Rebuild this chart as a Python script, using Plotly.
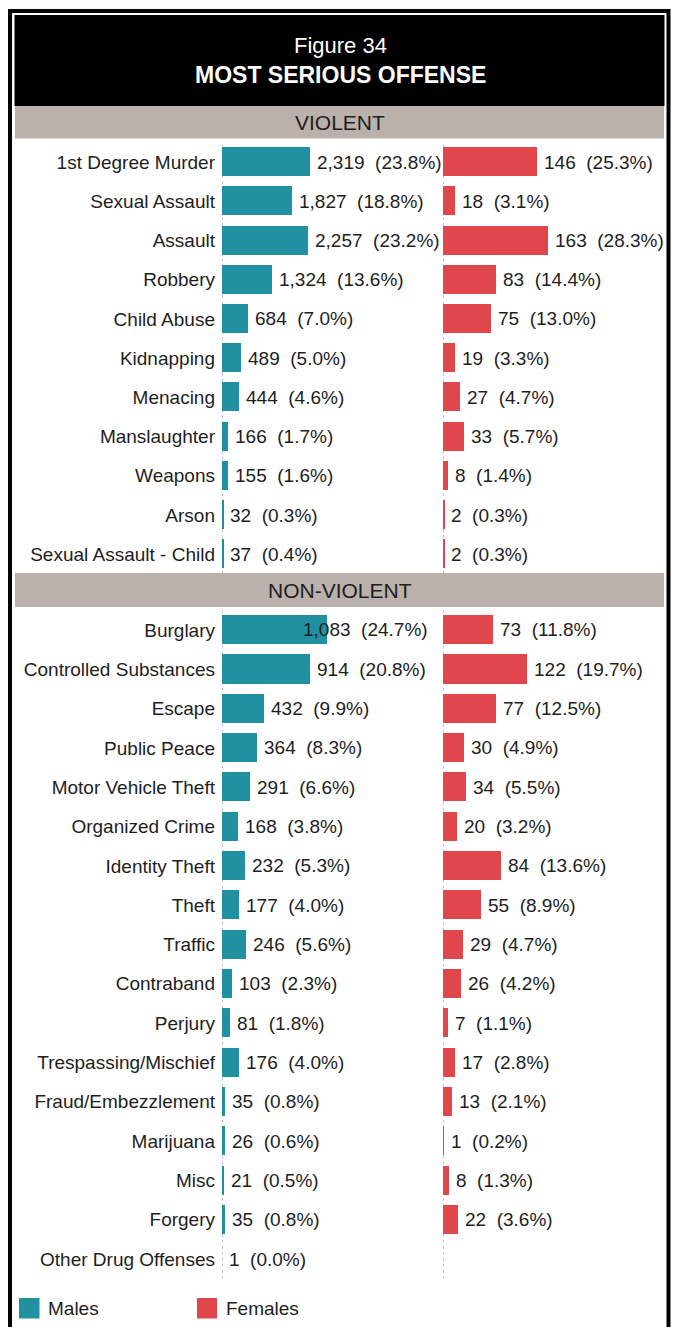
import plotly.graph_objects as go

# ---- data -------------------------------------------------------------
violent_offenses = ["1st Degree Murder", "Sexual Assault", "Assault", "Robbery",
                    "Child Abuse", "Kidnapping", "Menacing", "Manslaughter",
                    "Weapons", "Arson", "Sexual Assault - Child"]
violent_male_n = [2319, 1827, 2257, 1324, 684, 489, 444, 166, 155, 32, 37]
violent_male_pct = [23.8, 18.8, 23.2, 13.6, 7.0, 5.0, 4.6, 1.7, 1.6, 0.3, 0.4]
violent_female_n = [146, 18, 163, 83, 75, 19, 27, 33, 8, 2, 2]
violent_female_pct = [25.3, 3.1, 28.3, 14.4, 13.0, 3.3, 4.7, 5.7, 1.4, 0.3, 0.3]

nonviolent_offenses = ["Burglary", "Controlled Substances", "Escape", "Public Peace",
                       "Motor Vehicle Theft", "Organized Crime", "Identity Theft",
                       "Theft", "Traffic", "Contraband", "Perjury",
                       "Trespassing/Mischief", "Fraud/Embezzlement", "Marijuana",
                       "Misc", "Forgery", "Other Drug Offenses"]
nonviolent_male_n = [1083, 914, 432, 364, 291, 168, 232, 177, 246, 103, 81,
                     176, 35, 26, 21, 35, 1]
nonviolent_male_pct = [24.7, 20.8, 9.9, 8.3, 6.6, 3.8, 5.3, 4.0, 5.6, 2.3, 1.8,
                       4.0, 0.8, 0.6, 0.5, 0.8, 0.0]
nonviolent_female_n = [73, 122, 77, 30, 34, 20, 84, 55, 29, 26, 7,
                       17, 13, 1, 8, 22, None]
nonviolent_female_pct = [11.8, 19.7, 12.5, 4.9, 5.5, 3.2, 13.6, 8.9, 4.7, 4.2, 1.1,
                         2.8, 2.1, 0.2, 1.3, 3.6, None]

title_top = "Figure 34"
title_main = "MOST SERIOUS OFFENSE"
section_names = ["VIOLENT", "NON-VIOLENT"]
series_names = ["Males", "Females"]

# ---- style ------------------------------------------------------------
W, H = 673, 1327
MALE = "#2190A0"
FEMALE = "#E0474C"
BAND = "#BAB0AC"
INK = "#1E1E1E"
FONT = "Liberation Sans, Arial, sans-serif"
LABEL_SIZE = 19


def fx(px):
    return px / W


def fy(py):
    return 1 - py / H


fig = go.Figure()

sections = [
    dict(cats=violent_offenses, mn=violent_male_n, mp=violent_male_pct,
         fn=violent_female_n, fp=violent_female_pct, top=142.4, bottom=573.9,
         xm="x", xf="x2", y="y"),
    dict(cats=nonviolent_offenses, mn=nonviolent_male_n, mp=nonviolent_male_pct,
         fn=nonviolent_female_n, fp=nonviolent_female_pct, top=610.3, bottom=1278.7,
         xm="x3", xf="x4", y="y2"),
]

male_dom = [fx(222), fx(432)]
female_dom = [fx(443), fx(653)]


def fmt(n, p):
    return f"{n:,}\u00a0 ({p:.1f}%)"


annotations = []
shapes = []

for s in sections:
    smax = max([v for v in s["mp"] + s["fp"] if v is not None])
    fig.add_trace(go.Bar(
        y=s["cats"], x=s["mp"], orientation="h", xaxis=s["xm"], yaxis=s["y"],
        marker=dict(color=MALE, line=dict(width=0)), width=0.74,
        showlegend=False, hoverinfo="skip"))
    fig.add_trace(go.Bar(
        y=s["cats"], x=s["fp"], orientation="h", xaxis=s["xf"], yaxis=s["y"],
        marker=dict(color=FEMALE, line=dict(width=0)), width=0.74,
        showlegend=False, hoverinfo="skip"))

    # value labels
    for cat, n, p in zip(s["cats"], s["mn"], s["mp"]):
        if p == smax:
            # a full-length bar keeps its label inside the male pane
            annotations.append(dict(x=2 * smax, y=cat, xref=s["xm"], yref=s["y"],
                                    text=fmt(n, p), showarrow=False, xanchor="right",
                                    yanchor="middle", xshift=-2,
                                    font=dict(size=LABEL_SIZE, color=INK)))
        else:
            annotations.append(dict(x=p, y=cat, xref=s["xm"], yref=s["y"],
                                    text=fmt(n, p), showarrow=False, xanchor="left",
                                    yanchor="middle", xshift=5,
                                    font=dict(size=LABEL_SIZE, color=INK)))
    for cat, n, p in zip(s["cats"], s["fn"], s["fp"]):
        if n is None:
            continue
        annotations.append(dict(x=p, y=cat, xref=s["xf"], yref=s["y"],
                                text=fmt(n, p), showarrow=False, xanchor="left",
                                yanchor="middle", xshift=5,
                                font=dict(size=LABEL_SIZE, color=INK)))

    # dotted baselines
    for xr in (s["xm"], s["xf"]):
        shapes.append(dict(type="line", xref=xr, yref=s["y"] + " domain",
                           x0=0, x1=0, y0=0, y1=1, layer="below",
                           line=dict(color="#8A8A8A", width=1, dash="dot")))
    s["max"] = smax

axis_off = dict(showgrid=False, zeroline=False, showticklabels=False,
                showline=False, ticks="", fixedrange=True)

layout = dict(
    width=W, height=H, margin=dict(l=0, r=0, t=0, b=0),
    paper_bgcolor="white", plot_bgcolor="rgba(0,0,0,0)",
    font=dict(family=FONT, color=INK, size=LABEL_SIZE),
    showlegend=False, bargap=0,
    xaxis=dict(domain=male_dom, range=[0, 2 * sections[0]["max"]], anchor="y", **axis_off),
    xaxis2=dict(domain=female_dom, range=[0, 2 * sections[0]["max"]], anchor="y", **axis_off),
    xaxis3=dict(domain=male_dom, range=[0, 2 * sections[1]["max"]], anchor="y2", **axis_off),
    xaxis4=dict(domain=female_dom, range=[0, 2 * sections[1]["max"]], anchor="y2", **axis_off),
)
for key, s in (("yaxis", sections[0]), ("yaxis2", sections[1])):
    n = len(s["cats"])
    layout[key] = dict(
        domain=[fy(s["bottom"]), fy(s["top"])], anchor=s["xm"],
        type="category", categoryorder="array", categoryarray=s["cats"],
        range=[n - 0.5, -0.5], showgrid=False, zeroline=False, showline=False,
        ticks="", ticklabelstandoff=6, fixedrange=True,
        tickfont=dict(size=LABEL_SIZE, color=INK, family=FONT))

# frame, title box, section bands
shapes += [
    dict(type="rect", xref="paper", yref="paper", x0=fx(10), x1=fx(668.5),
         y0=fy(1345), y1=fy(11), line=dict(color="black", width=4)),
    dict(type="rect", xref="paper", yref="paper", x0=fx(14.5), x1=fx(664.5),
         y0=fy(106), y1=fy(15), fillcolor="black", line=dict(width=0)),
    dict(type="rect", xref="paper", yref="paper", x0=fx(15), x1=fx(664),
         y0=fy(138.5), y1=fy(106), fillcolor=BAND, line=dict(width=0)),
    dict(type="rect", xref="paper", yref="paper", x0=fx(15), x1=fx(664),
         y0=fy(607), y1=fy(573), fillcolor=BAND, line=dict(width=0)),
    # legend swatches
    dict(type="rect", xref="paper", yref="paper", x0=fx(19), x1=fx(39.5),
         y0=fy(1318.5), y1=fy(1298), fillcolor=MALE, line=dict(width=0)),
    dict(type="rect", xref="paper", yref="paper", x0=fx(197), x1=fx(217),
         y0=fy(1318.5), y1=fy(1298), fillcolor=FEMALE, line=dict(width=0)),
]


def paper_text(px, py, text, size, color=INK, anchor="center"):
    return dict(x=fx(px), y=fy(py), xref="paper", yref="paper", text=text,
                showarrow=False, xanchor=anchor, yanchor="middle",
                font=dict(size=size, color=color, family=FONT))


annotations += [
    paper_text(340, 46, title_top, 22, "white"),
    paper_text(340, 75, f"<b>{title_main}</b>", 23, "white"),
    paper_text(340, 122.5, section_names[0], 21),
    paper_text(340, 590, section_names[1], 21),
    paper_text(46, 1308, series_names[0], LABEL_SIZE, anchor="left"),
    paper_text(224, 1308, series_names[1], LABEL_SIZE, anchor="left"),
]

layout["shapes"] = shapes
layout["annotations"] = annotations
fig.update_layout(**layout)

fig.write_html("out.html")
